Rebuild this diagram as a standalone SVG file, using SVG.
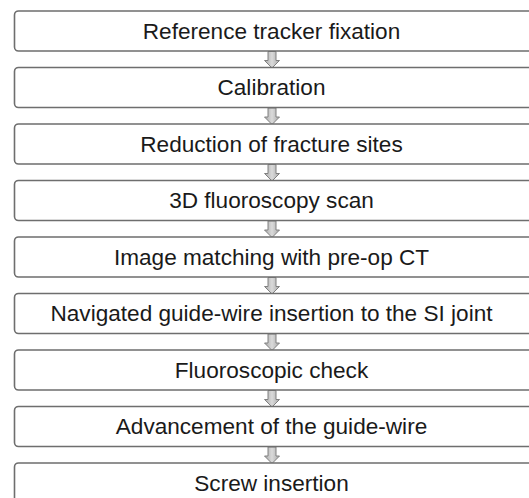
<svg xmlns="http://www.w3.org/2000/svg" width="529" height="498" viewBox="0 0 529 498">
  <style>
    .box { fill: #ffffff; stroke: #6e6e6e; stroke-width: 1.6; }
    .label { font-family: "Liberation Sans", Arial, sans-serif; font-size: 22.6px; fill: #1a1a1a; text-anchor: middle; }
    .arrow { fill: url(#arrowFill); stroke: #808080; stroke-width: 1; }
  </style>
  <defs>
    <linearGradient id="arrowFill" x1="0" y1="0" x2="1" y2="0">
      <stop offset="0" stop-color="#a8a8a8"/>
      <stop offset="0.5" stop-color="#dadada"/>
      <stop offset="1" stop-color="#a8a8a8"/>
    </linearGradient>
    <!-- small downward block arrow, origin at its top centre -->
    <path id="down" d="M -4 0 H 4 V 9 H 7.5 L 0 16.5 L -7.5 9 H -4 Z"/>
  </defs>
  <rect width="529" height="498" fill="#ffffff"/>

  <g id="connectors">
    <use href="#down" class="arrow" x="272" y="51.5"/>
    <use href="#down" class="arrow" x="272" y="108"/>
    <use href="#down" class="arrow" x="272" y="164.5"/>
    <use href="#down" class="arrow" x="272" y="221"/>
    <use href="#down" class="arrow" x="272" y="277.5"/>
    <use href="#down" class="arrow" x="272" y="334"/>
    <use href="#down" class="arrow" x="272" y="390.5"/>
    <use href="#down" class="arrow" x="272" y="447"/>
  </g>

  <g id="step1">
    <rect class="box" x="14.5" y="11" width="520" height="40" rx="4"/>
    <text class="label" x="271.5" y="38.5">Reference tracker fixation</text>
  </g>
  <g id="step2">
    <rect class="box" x="14.5" y="67.5" width="520" height="40" rx="4"/>
    <text class="label" x="271.5" y="95">Calibration</text>
  </g>
  <g id="step3">
    <rect class="box" x="14.5" y="124" width="520" height="40" rx="4"/>
    <text class="label" x="271.5" y="151.5">Reduction of fracture sites</text>
  </g>
  <g id="step4">
    <rect class="box" x="14.5" y="180.5" width="520" height="40" rx="4"/>
    <text class="label" x="271.5" y="208">3D fluoroscopy scan</text>
  </g>
  <g id="step5">
    <rect class="box" x="14.5" y="237" width="520" height="40" rx="4"/>
    <text class="label" x="271.5" y="264.5">Image matching with pre-op CT</text>
  </g>
  <g id="step6">
    <rect class="box" x="14.5" y="293.5" width="520" height="40" rx="4"/>
    <text class="label" x="271.5" y="321">Navigated guide-wire insertion to the SI joint</text>
  </g>
  <g id="step7">
    <rect class="box" x="14.5" y="350" width="520" height="40" rx="4"/>
    <text class="label" x="271.5" y="377.5">Fluoroscopic check</text>
  </g>
  <g id="step8">
    <rect class="box" x="14.5" y="406.5" width="520" height="40" rx="4"/>
    <text class="label" x="271.5" y="434">Advancement of the guide-wire</text>
  </g>
  <g id="step9">
    <rect class="box" x="14.5" y="463" width="520" height="40" rx="4"/>
    <text class="label" x="271.5" y="490.5">Screw insertion</text>
  </g>
</svg>
